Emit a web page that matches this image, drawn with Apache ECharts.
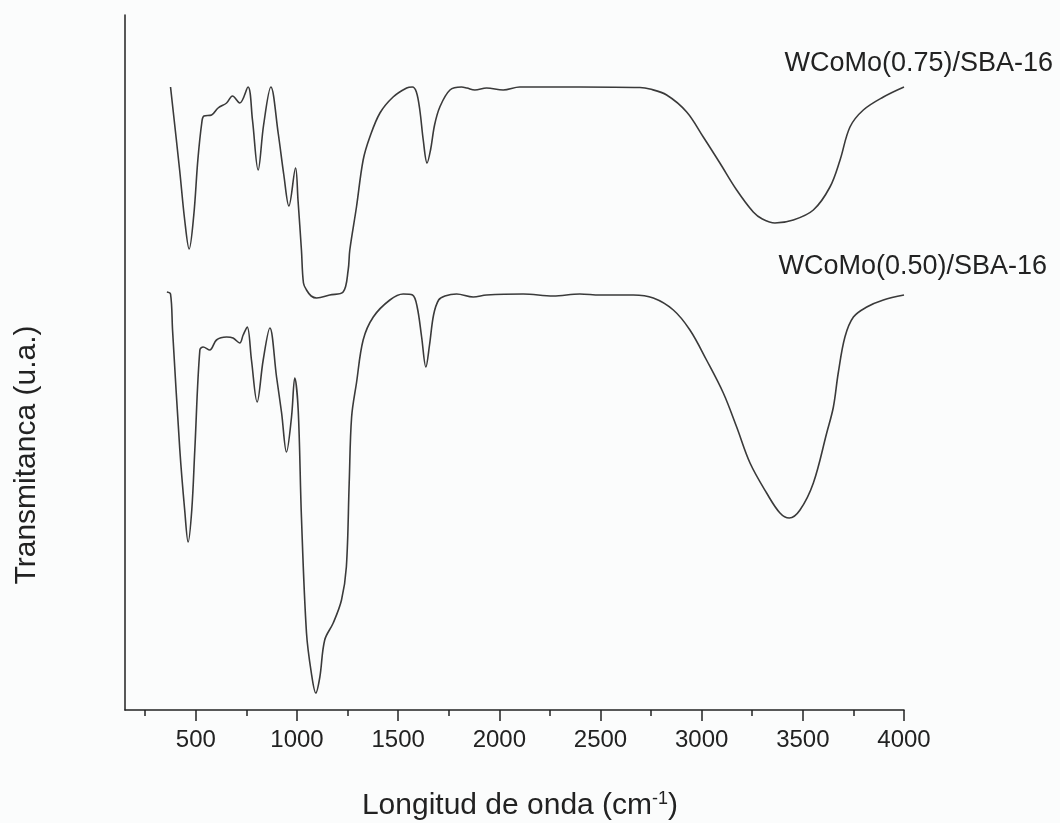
<!DOCTYPE html>
<html>
<head>
<meta charset="utf-8">
<script src="https://cdn.jsdelivr.net/npm/echarts@6/dist/echarts.min.js"></script>
<style>
  html, body { margin: 0; padding: 0; background: #fbfcfc; }
  #chart { width: 1060px; height: 823px; }
</style>
</head>
<body>
<div id="chart"></div>
<script>
// FTIR spectra, wavenumber (cm-1) vs transmittance (arbitrary units, stacked)
const wavenumberRange = [150, 4000];
const majorTicks = [500, 1000, 1500, 2000, 2500, 3000, 3500, 4000];
const minorTicks = [250, 750, 1250, 1750, 2250, 2750, 3250, 3750];

const seriesNames = ['WCoMo(0.75)/SBA-16', 'WCoMo(0.50)/SBA-16'];

// WCoMo(0.75)/SBA-16 (upper trace)
const wn075 = [375, 420, 445, 467, 490, 510, 530, 540, 578, 610, 652, 681, 717, 758, 780, 808, 835, 871, 907, 935, 960, 993, 1005, 1022, 1032, 1047, 1070, 1097, 1162, 1228, 1253, 1261, 1294, 1327, 1360, 1410, 1475, 1542, 1570, 1590, 1607, 1624, 1643, 1660, 1680, 1706, 1756, 1813, 1840, 1879, 1937, 2019, 2101, 2400, 2695, 2744, 2827, 2926, 3008, 3090, 3173, 3255, 3300, 3362, 3453, 3552, 3634, 3684, 3733, 3799, 3898, 4000];
const t075 = [62.3, 54.0, 49.0, 46.1, 49.5, 55.0, 58.8, 59.4, 59.5, 60.2, 60.7, 61.4, 60.7, 62.3, 59.0, 54.0, 58.5, 62.3, 57.7, 53.5, 50.4, 54.2, 51.0, 46.0, 42.7, 42.0, 41.4, 41.2, 41.5, 41.8, 44.0, 46.0, 50.3, 55.0, 57.3, 59.7, 61.3, 62.2, 62.3, 61.8, 60.0, 57.0, 54.7, 56.0, 58.5, 60.3, 62.0, 62.3, 62.2, 62.0, 62.2, 62.0, 62.3, 62.3, 62.25, 62.1, 61.5, 59.8, 57.3, 54.7, 52.0, 49.8, 49.1, 48.7, 49.0, 50.0, 52.3, 55.0, 58.3, 60.0, 61.3, 62.3];

// WCoMo(0.50)/SBA-16 (lower trace)
const wn050 = [357, 375, 385, 421, 445, 462, 480, 495, 520, 536, 569, 602, 652, 684, 717, 734, 754, 775, 803, 833, 866, 899, 924, 948, 973, 989, 1006, 1022, 1047, 1071, 1093, 1113, 1137, 1179, 1220, 1244, 1258, 1270, 1294, 1327, 1377, 1459, 1525, 1571, 1594, 1616, 1637, 1655, 1675, 1700, 1731, 1789, 1871, 1937, 2118, 2266, 2398, 2497, 2662, 2761, 2860, 2942, 3024, 3107, 3173, 3239, 3321, 3387, 3433, 3486, 3552, 3618, 3651, 3675, 3708, 3750, 3816, 3898, 4000];
const t050 = [41.8, 41.6, 38.0, 26.0, 20.0, 16.8, 20.0, 26.0, 36.0, 36.3, 36.0, 37.0, 37.3, 37.2, 36.7, 37.5, 38.3, 35.0, 30.8, 35.0, 38.2, 33.3, 29.7, 25.8, 29.3, 33.2, 30.0, 19.3, 7.7, 3.7, 1.7, 3.3, 7.0, 8.7, 11.0, 14.3, 22.7, 29.3, 32.7, 37.0, 39.3, 41.0, 41.6, 41.5, 40.3, 37.3, 34.3, 36.5, 39.5, 41.0, 41.4, 41.6, 41.3, 41.5, 41.6, 41.4, 41.6, 41.5, 41.5, 41.2, 40.0, 38.0, 35.0, 31.7, 28.3, 24.7, 21.7, 19.7, 19.2, 20.0, 22.7, 27.7, 30.3, 33.7, 37.3, 39.3, 40.3, 41.0, 41.5];

const pair = (xs, ys) => xs.map((x, i) => [x, ys[i]]);

const FONT = '"Liberation Sans", Arial, Helvetica, sans-serif';
const INK = '#222';
const LINE = '#3a3a3a';

const chart = echarts.init(document.getElementById('chart'), null, { renderer: 'canvas' });

chart.setOption({
  backgroundColor: '#fbfcfc',
  animation: false,
  grid: { left: 125, right: 156, top: 15, bottom: 113 },
  xAxis: [
    {
      type: 'value',
      min: wavenumberRange[0],
      max: wavenumberRange[1],
      position: 'bottom',
      axisLine: { show: true, lineStyle: { color: INK, width: 1.5 } },
      axisTick: { show: true, customValues: majorTicks, length: 11, lineStyle: { color: INK, width: 1.5 } },
      axisLabel: {
        show: true, customValues: majorTicks, margin: 18,
        color: INK, fontFamily: FONT, fontSize: 24,
        formatter: v => String(v)
      },
      splitLine: { show: false }
    },
    {
      // minor ticks, drawn on the same baseline
      type: 'value',
      min: wavenumberRange[0],
      max: wavenumberRange[1],
      position: 'bottom',
      offset: 0,
      axisLine: { show: false },
      axisTick: { show: true, customValues: minorTicks, length: 6, lineStyle: { color: INK, width: 1.5 } },
      axisLabel: { show: false },
      splitLine: { show: false }
    }
  ],
  yAxis: {
    type: 'value',
    min: 0,
    max: 69.5,
    axisLine: { show: true, lineStyle: { color: INK, width: 1.5 } },
    axisTick: { show: false },
    axisLabel: { show: false },
    splitLine: { show: false }
  },
  series: [
    {
      name: seriesNames[0],
      type: 'line',
      xAxisIndex: 0,
      data: pair(wn075, t075),
      smooth: 0.35,
      showSymbol: false,
      lineStyle: { color: LINE, width: 1.6 }
    },
    {
      name: seriesNames[1],
      type: 'line',
      xAxisIndex: 0,
      data: pair(wn050, t050),
      smooth: 0.35,
      showSymbol: false,
      lineStyle: { color: LINE, width: 1.6 }
    }
  ],
  graphic: [
    {
      type: 'text', right: 7, top: 50,
      style: { text: seriesNames[0], fill: INK, font: '27px ' + FONT }
    },
    {
      type: 'text', right: 13, top: 253,
      style: { text: seriesNames[1], fill: INK, font: '27px ' + FONT }
    },
    {
      type: 'text', x: 520, y: 806,
      style: {
        text: 'Longitud de onda (cm{sup|-1})',
        fill: INK, font: '30px ' + FONT,
        align: 'center', verticalAlign: 'middle',
        rich: { sup: { fontSize: 18, fontFamily: FONT, fill: INK, verticalAlign: 'top', padding: [0, 0, 14, 0] } }
      }
    },
    {
      type: 'text', x: 27, y: 455, rotation: Math.PI / 2,
      style: { text: 'Transmitanca (u.a.)', fill: INK, font: '30px ' + FONT, align: 'center', verticalAlign: 'middle' }
    }
  ]
});
</script>
</body>
</html>
